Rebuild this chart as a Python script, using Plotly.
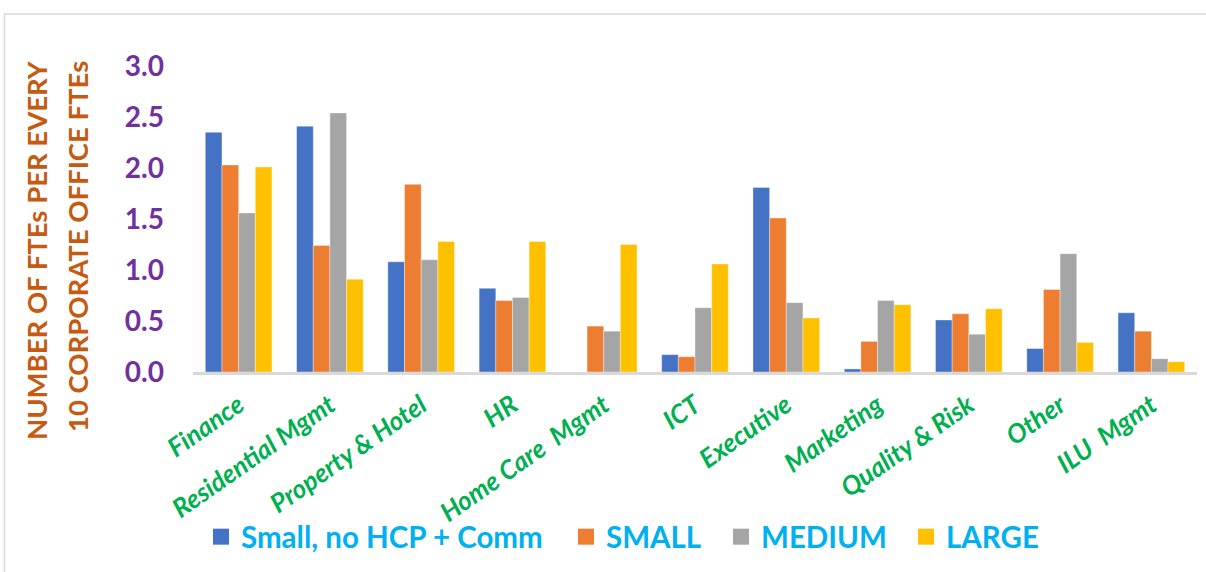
import plotly.graph_objects as go

categories = ["Finance", "Residential Mgmt", "Property & Hotel", "HR", "Home Care  Mgmt",
              "ICT", "Executive", "Marketing", "Quality & Risk", "Other", "ILU  Mgmt"]
series_names = ["Small, no HCP + Comm", "SMALL", "MEDIUM", "LARGE"]
small_no_hcp = [2.35, 2.41, 1.08, 0.82, 0.00, 0.17, 1.81, 0.03, 0.51, 0.23, 0.58]
small = [2.03, 1.24, 1.84, 0.70, 0.45, 0.15, 1.51, 0.30, 0.57, 0.81, 0.40]
medium = [1.56, 2.54, 1.10, 0.73, 0.40, 0.63, 0.68, 0.70, 0.37, 1.16, 0.13]
large = [2.01, 0.91, 1.28, 1.28, 1.25, 1.06, 0.53, 0.66, 0.62, 0.29, 0.10]
y_ticks = [0.0, 0.5, 1.0, 1.5, 2.0, 2.5, 3.0]
y_title_lines = ["NUMBER OF FTEs PER EVERY", "10 CORPORATE OFFICE FTEs"]

colors = ["#4472C4", "#ED7D31", "#A5A5A5", "#FFC000"]
values = [small_no_hcp, small, medium, large]

FONT = "Lato"
W, H = 1206, 572
L, R, T, B = 193, 9, 66, 200

pw = W - L - R
ph = H - T - B

def px_x(p):
    return (p - L) / pw

def px_y(p):
    return (H - B - p) / ph

legend_ids = ["legend", "legend2", "legend3", "legend4"]
legend_left_px = [201, 566, 721, 906]

fig = go.Figure()
for name, vals, col in zip(series_names, values, colors):
    fig.add_trace(go.Bar(
        x=categories, y=vals, name=name, showlegend=False, legendgroup=name,
        marker=dict(color=col, line=dict(color="rgba(255,255,255,0.45)", width=0.8)),
    ))
# legend entries with larger square swatches
for name, col, lid in zip(series_names, colors, legend_ids):
    fig.add_trace(go.Scatter(
        x=[None], y=[None], mode="markers", name=name, legendgroup=name, legend=lid,
        marker=dict(symbol="square", size=16, color=col),
    ))

legend_style = dict(
    orientation="h", yanchor="middle", xanchor="left",
    font=dict(family=FONT, size=29.5, color="#00B0F0", weight="bold"),
    itemsizing="trace", itemwidth=30, bgcolor="rgba(0,0,0,0)",
)
legends = {}
for lid, lx in zip(legend_ids, legend_left_px):
    legends[lid] = dict(legend_style, x=px_x(lx), y=px_y(537))

fig.update_layout(
    width=W, height=H,
    margin=dict(l=L, r=R, t=T, b=B, autoexpand=False),
    paper_bgcolor="white", plot_bgcolor="white",
    barmode="group", bargap=0.27, bargroupgap=0.0,
    font=dict(family=FONT),
    showlegend=True,
    **legends,
    xaxis=dict(
        type="category", showgrid=False, zeroline=False,
        showline=True, linecolor="#D9D9D9", linewidth=3,
        ticks="", tickangle=-35, ticklabelstandoff=5,
        tickfont=dict(family=FONT, size=26, color="#00B050", weight="bold", style="italic"),
    ),
    yaxis=dict(
        range=[0, 3.0], tickvals=y_ticks, ticktext=[f"{v:.1f}" for v in y_ticks],
        showgrid=False, zeroline=False, showline=False, ticks="",
        ticklabelstandoff=28,
        tickfont=dict(family=FONT, size=28, color="#7030A0", weight="bold"),
    ),
    shapes=[dict(
        type="rect", xref="paper", yref="paper",
        x0=px_x(4.5), x1=px_x(1215), y0=px_y(590), y1=px_y(14),
        line=dict(color="#D9D9D9", width=1.5), fillcolor="rgba(0,0,0,0)", layer="below",
    )],
)

for i, (txt, cx) in enumerate(zip(y_title_lines, [36, 77])):
    fig.add_annotation(
        text=txt, textangle=-90, showarrow=False,
        xref="paper", yref="paper", x=px_x(cx), y=px_y(251 if i == 0 else 247),
        xanchor="center", yanchor="middle",
        font=dict(family=FONT, size=27.5, color="#C55A11", weight="bold"),
    )

fig.write_html("out.html")
